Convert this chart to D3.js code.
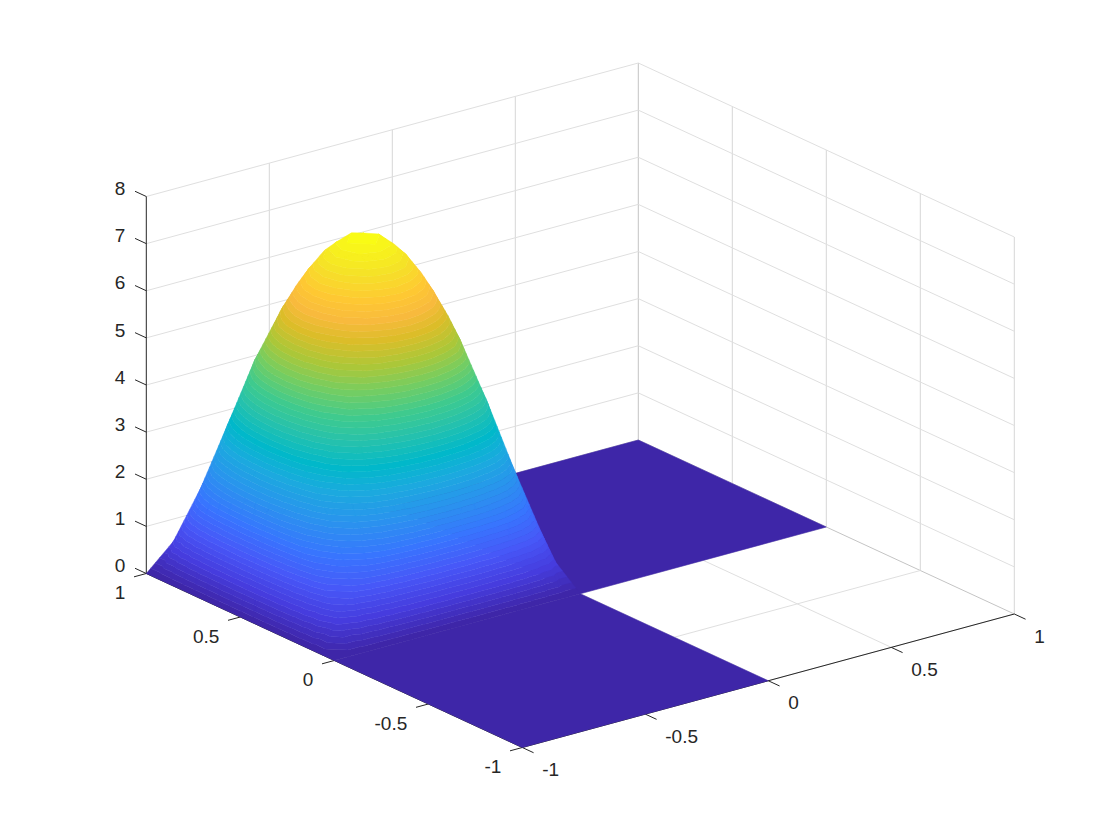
<!DOCTYPE html>
<html>
<head>
    <title>surface</title>
    <script src="https://d3js.org/d3.v7.min.js"></script>
    <style type="text/css">
        body{
            margin: 0;
            background: #fff;
        }
        text{
            font-family: "Liberation Sans", sans-serif;
            font-size: 19px;
            fill: #262626;
        }
    </style>
</head>
<body>
<script>
    var w = 1120;
    var h = 840;

    var xTicks = [-1, -0.5, 0, 0.5, 1];
    var yTicks = [-1, -0.5, 0, 0.5, 1];
    var zTicks = [0, 1, 2, 3, 4, 5, 6, 7, 8];

    // nodes of the raised quarter of the L shaped domain
    var xNodes = [-1, -0.9375, -0.875, -0.8125, -0.75, -0.6875, -0.625, -0.5625, -0.5, -0.4375, -0.375, -0.3125, -0.25, -0.1875, -0.125, -0.0625, 0];
    var yNodes = [1, 0.9375, 0.875, 0.8125, 0.75, 0.6875, 0.625, 0.5625, 0.5, 0.4375, 0.375, 0.3125, 0.25, 0.1875, 0.125, 0.0625, 0];
    var zValues = [
        [0, 0, 0, 0, 0, 0, 0, 0, 0, 0, 0, 0, 0, 0, 0, 0, 0],
        [0, 0.71, 1.15, 1.52, 1.82, 2.03, 2.18, 2.27, 2.31, 2.27, 2.18, 2.03, 1.82, 1.52, 1.15, 0.71, 0],
        [0, 1.15, 1.86, 2.46, 2.94, 3.27, 3.52, 3.66, 3.72, 3.66, 3.52, 3.27, 2.94, 2.46, 1.86, 1.15, 0],
        [0, 1.52, 2.46, 3.24, 3.88, 4.32, 4.64, 4.84, 4.91, 4.84, 4.64, 4.32, 3.88, 3.24, 2.46, 1.52, 0],
        [0, 1.82, 2.94, 3.88, 4.64, 5.17, 5.55, 5.79, 5.88, 5.79, 5.55, 5.17, 4.64, 3.88, 2.94, 1.82, 0],
        [0, 2.03, 3.27, 4.32, 5.17, 5.76, 6.19, 6.45, 6.55, 6.45, 6.19, 5.76, 5.17, 4.32, 3.27, 2.03, 0],
        [0, 2.18, 3.52, 4.64, 5.55, 6.19, 6.64, 6.93, 7.03, 6.93, 6.64, 6.19, 5.55, 4.64, 3.52, 2.18, 0],
        [0, 2.27, 3.66, 4.84, 5.79, 6.45, 6.93, 7.22, 7.33, 7.22, 6.93, 6.45, 5.79, 4.84, 3.66, 2.27, 0],
        [0, 2.31, 3.72, 4.91, 5.88, 6.55, 7.03, 7.33, 7.44, 7.33, 7.03, 6.55, 5.88, 4.91, 3.72, 2.31, 0],
        [0, 2.27, 3.66, 4.84, 5.79, 6.45, 6.93, 7.22, 7.33, 7.22, 6.93, 6.45, 5.79, 4.84, 3.66, 2.27, 0],
        [0, 2.18, 3.52, 4.64, 5.55, 6.19, 6.64, 6.93, 7.03, 6.93, 6.64, 6.19, 5.55, 4.64, 3.52, 2.18, 0],
        [0, 2.03, 3.27, 4.32, 5.17, 5.76, 6.19, 6.45, 6.55, 6.45, 6.19, 5.76, 5.17, 4.32, 3.27, 2.03, 0],
        [0, 1.82, 2.94, 3.88, 4.64, 5.17, 5.55, 5.79, 5.88, 5.79, 5.55, 5.17, 4.64, 3.88, 2.94, 1.82, 0],
        [0, 1.52, 2.46, 3.24, 3.88, 4.32, 4.64, 4.84, 4.91, 4.84, 4.64, 4.32, 3.88, 3.24, 2.46, 1.52, 0],
        [0, 1.15, 1.86, 2.46, 2.94, 3.27, 3.52, 3.66, 3.72, 3.66, 3.52, 3.27, 2.94, 2.46, 1.86, 1.15, 0],
        [0, 0.71, 1.15, 1.52, 1.82, 2.03, 2.18, 2.27, 2.31, 2.27, 2.18, 2.03, 1.82, 1.52, 1.15, 0.71, 0],
        [0, 0, 0, 0, 0, 0, 0, 0, 0, 0, 0, 0, 0, 0, 0, 0, 0]
    ];
    // the two flat quarters, z = 0: [xMin, xMax, yMin, yMax]
    var flatBack = [0, 1, 0, 1];
    var flatFront = [-1, 0, -1, 0];

    var parula = ["#3e26a8", "#463cde", "#4758f8", "#3875fe", "#2b91ef", "#1ca9df", "#01b8ca", "#24c1ae",
                  "#3fca8e", "#72cd64", "#abc739", "#dcbd29", "#f8ba3d", "#fec833", "#f5e327", "#f9fb15"];
    var parulaAt = [0, 5, 10, 15, 20, 25, 29, 33, 37, 41, 45, 49, 52, 55, 59, 63];

    var zMax = d3.max(zValues, function(row){return d3.max(row);});

    // 64 flat colours like the default colormap, this is what makes the bands
    var ramp = d3.scaleLinear().domain(parulaAt).range(parula);
    var colorScale = d3.scaleQuantize()
                    .domain([0, zMax])
                    .range(d3.range(64).map(ramp));
    var levels = [0].concat(colorScale.thresholds(), [zMax]);

    // oblique projection: the front corner of the box is (-1,-1,0)
    var x0 = 522.3;
    var y0 = 747.5;
    var xToX = d3.scaleLinear().domain([-1, 1]).range([0, 492]);
    var xToY = d3.scaleLinear().domain([-1, 1]).range([0, -133.5]);
    var yToX = d3.scaleLinear().domain([-1, 1]).range([0, -376]);
    var yToY = d3.scaleLinear().domain([-1, 1]).range([0, -174]);
    var zToY = d3.scaleLinear().domain([0, 8]).range([0, -377]);

    function project(x, y, z){
        return [x0 + xToX(x) + yToX(y), y0 + xToY(x) + yToY(y) + zToY(z)];
    }
    var path = d3.line();

    var svg = d3.select("body")
                .append("svg")
                .attr("width", w)
                .attr("height", h)
                .style("display", "block");

    function seg(g, a, b, color){
        var p = project(a[0], a[1], a[2]);
        var q = project(b[0], b[1], b[2]);
        g.append("line")
            .attr("x1", p[0]).attr("y1", p[1])
            .attr("x2", q[0]).attr("y2", q[1])
            .attr("stroke", color)
            .attr("stroke-width", 1);
    }

    //grid on the floor and the two back walls
    var grid = svg.append("g");
    var gridColor = "#dfdfdf";
    var edgeColor = "#c4c4c4";
    xTicks.forEach(function(t){
        seg(grid, [t, -1, 0], [t, 1, 0], t == 1 ? edgeColor : gridColor);
        if(t > -1) seg(grid, [t, 1, 0], [t, 1, 8], t == 1 ? edgeColor : "#d6d6d6");
    });
    yTicks.forEach(function(t){
        seg(grid, [-1, t, 0], [1, t, 0], t == 1 ? edgeColor : gridColor);
        if(t < 1) seg(grid, [1, t, 0], [1, t, 8], "#d6d6d6");
    });
    zTicks.forEach(function(t){
        if(t == 0) return;
        seg(grid, [-1, 1, t], [1, 1, t], gridColor);
        seg(grid, [1, 1, t], [1, -1, t], gridColor);
    });

    //axis lines and ticks
    var axes = svg.append("g");
    var axisColor = "#262626";
    seg(axes, [-1, -1, 0], [1, -1, 0], axisColor);
    seg(axes, [-1, -1, 0], [-1, 1, 0], axisColor);
    seg(axes, [-1, 1, 0], [-1, 1, 8], axisColor);
    xTicks.forEach(function(t){
        seg(axes, [t, -1, 0], [t, -1.06, 0], axisColor);
    });
    yTicks.forEach(function(t){
        seg(axes, [-1, t, 0], [-1.05, t, 0], axisColor);
    });
    zTicks.forEach(function(t){
        seg(axes, [-1, 1, t], [-1, 1.06, t], axisColor);
    });

    function flatPatch(r){
        var pts = [project(r[0], r[2], 0), project(r[1], r[2], 0), project(r[1], r[3], 0), project(r[0], r[3], 0)];
        svg.append("path")
            .attr("d", path(pts) + "Z")
            .attr("fill", colorScale(0))
            .attr("stroke", colorScale(0))
            .attr("stroke-width", 0.5);
    }

    // keep the part of a polygon where sign*(z-level) >= 0
    function clip(poly, level, sign){
        var out = [];
        poly.forEach(function(p, k){
            var q = poly[(k + 1) % poly.length];
            var dp = sign * (p[2] - level);
            var dq = sign * (q[2] - level);
            if(dp >= 0) out.push(p);
            if((dp > 0 && dq < 0) || (dp < 0 && dq > 0)){
                var f = dp / (dp - dq);
                out.push([p[0] + f * (q[0] - p[0]), p[1] + f * (q[1] - p[1]), level]);
            }
        });
        return out;
    }

    function area(a, b, c){
        return (b[0] - a[0]) * (c[1] - a[1]) - (b[1] - a[1]) * (c[0] - a[0]);
    }

    // triangle seen from above? compare with the same triangle laid flat
    function facesViewer(t){
        var p = t.map(function(v){return project(v[0], v[1], v[2]);});
        var q = t.map(function(v){return project(v[0], v[1], 0);});
        return area(p[0], p[1], p[2]) * area(q[0], q[1], q[2]) > 0;
    }

    // one path per colour, filled from low to high, so no seams along the mesh
    var bandPaths = levels.slice(1).map(function(){return "";});
    function addTriangle(t){
        if(!facesViewer(t)) return;
        var lo = d3.min(t, function(p){return p[2];});
        var hi = d3.max(t, function(p){return p[2];});
        for(var k = 0; k < levels.length - 1; k++){
            if(levels[k + 1] < lo || levels[k] > hi) continue;
            var poly = clip(clip(t, levels[k], 1), levels[k + 1], -1);
            if(poly.length > 2){
                bandPaths[k] += path(poly.map(function(p){return project(p[0], p[1], p[2]);})) + "Z";
            }
        }
    }

    //surface
    flatPatch(flatBack);

    for(var i = 0; i < xNodes.length - 1; i++){
        for(var j = 0; j < yNodes.length - 1; j++){
            var a = [xNodes[i], yNodes[j], zValues[i][j]];
            var b = [xNodes[i + 1], yNodes[j], zValues[i + 1][j]];
            var c = [xNodes[i + 1], yNodes[j + 1], zValues[i + 1][j + 1]];
            var d = [xNodes[i], yNodes[j + 1], zValues[i][j + 1]];
            addTriangle([a, b, c]);
            addTriangle([a, c, d]);
        }
    }
    svg.append("g")
        .selectAll("path")
        .data(bandPaths)
        .enter()
        .append("path")
        .attr("d", function(d){return d;})
        .attr("fill", function(d, k){return colorScale.range()[k];})
        .attr("stroke", function(d, k){return colorScale.range()[k];})
        .attr("stroke-width", 0.5);

    flatPatch(flatFront);

    //tick labels
    svg.append("g")
        .selectAll("text")
        .data(xTicks)
        .enter()
        .append("text")
        .text(function(d){return d;})
        .attr("x", function(d){return project(d, -1, 0)[0] + 20;})
        .attr("y", function(d){return project(d, -1, 0)[1] + 22;})
        .attr("dy", "0.35em");
    svg.append("g")
        .selectAll("text")
        .data(yTicks)
        .enter()
        .append("text")
        .text(function(d){return d;})
        .attr("text-anchor", "end")
        .attr("x", function(d){return project(-1, d, 0)[0] - 21;})
        .attr("y", function(d){return project(-1, d, 0)[1] + 19;})
        .attr("dy", "0.35em");
    svg.append("g")
        .selectAll("text")
        .data(zTicks)
        .enter()
        .append("text")
        .text(function(d){return d;})
        .attr("text-anchor", "end")
        .attr("x", function(d){return project(-1, 1, d)[0] - 21;})
        .attr("y", function(d){return project(-1, 1, d)[1] - 8;})
        .attr("dy", "0.35em");
</script>
</body>
</html>
